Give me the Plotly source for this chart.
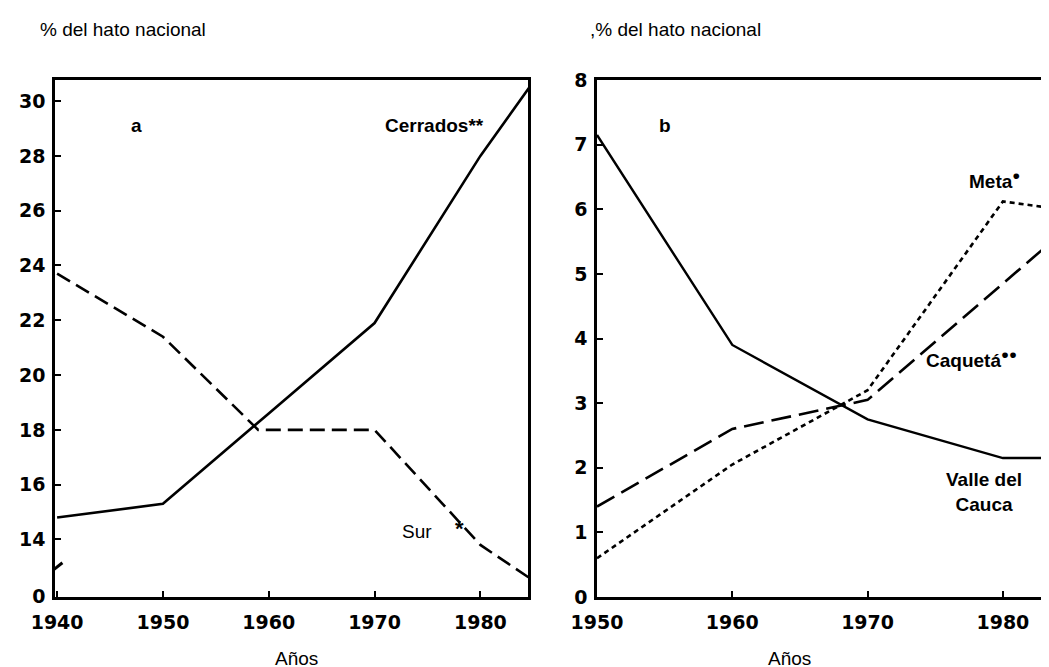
import plotly.graph_objects as go

# panel a: share of national herd, Brazil
years_a = [1940, 1950, 1960, 1970, 1980, 1985]
cerrados = [14.8, 15.3, 18.6, 21.9, 28.0, 30.7]
years_sur = [1940, 1950, 1959, 1970, 1980, 1985]
sur = [23.7, 21.4, 18.0, 18.0, 13.8, 12.5]
ticks_a = [11.92, 14, 16, 18, 20, 22, 24, 26, 28, 30]
ticktext_a = ["0", "14", "16", "18", "20", "22", "24", "26", "28", "30"]

# panel b: Colombia
years_b = [1950, 1960, 1970, 1980, 1985]
valle = [7.15, 3.9, 2.75, 2.15, 2.15]
caqueta = [1.4, 2.6, 3.05, 4.85, 5.75]
meta = [0.6, 2.05, 3.2, 6.12, 5.98]

W, H = 1049, 667
font = "Liberation Sans, Arial, sans-serif"
tickfont = dict(family="DejaVu Sans", size=19, color="black", weight="bold")

fig = go.Figure()
fig.add_trace(go.Scatter(x=years_a, y=cerrados, mode="lines",
                         line=dict(color="black", width=2.6), xaxis="x", yaxis="y"))
fig.add_trace(go.Scatter(x=years_sur, y=sur, mode="lines",
                         line=dict(color="black", width=2.6, dash="15px,7px"), xaxis="x", yaxis="y"))
fig.add_trace(go.Scatter(x=years_b, y=valle, mode="lines",
                         line=dict(color="black", width=2.4), xaxis="x2", yaxis="y2"))
fig.add_trace(go.Scatter(x=years_b, y=caqueta, mode="lines",
                         line=dict(color="black", width=2.6, dash="20px,8px"), xaxis="x2", yaxis="y2"))
fig.add_trace(go.Scatter(x=years_b, y=meta, mode="lines",
                         line=dict(color="black", width=2.6, dash="5px,4px"), xaxis="x2", yaxis="y2"))

axis_common = dict(showgrid=False, zeroline=False, showline=True, linecolor="black",
                   linewidth=2.5, ticks="inside", ticklen=6, tickwidth=2, tickcolor="black",
                   tickfont=tickfont, automargin=False)

fig.update_layout(
    width=W, height=H,
    margin=dict(l=0, r=0, t=0, b=0),
    paper_bgcolor="white", plot_bgcolor="white",
    showlegend=False,
    xaxis=dict(axis_common, domain=[47 / W, 520 / W], range=[1939.8, 1984.5],
               tickvals=[1940, 1950, 1960, 1970, 1980], mirror=True, anchor="y",
               ticklabelstandoff=6),
    yaxis=dict(axis_common, domain=[1 - 589 / H, 1 - 72 / H], range=[11.9, 30.77],
               tickvals=ticks_a, ticktext=ticktext_a, mirror=True, anchor="x",
               ticklabelstandoff=3),
    xaxis2=dict(axis_common, domain=[589 / W, 1.0], range=[1950, 1984],
                tickvals=[1950, 1960, 1970, 1980], mirror=True, anchor="y2",
                ticklabelstandoff=6),
    yaxis2=dict(axis_common, domain=[1 - 589 / H, 1 - 72 / H], range=[0, 8],
                tickvals=list(range(0, 9)), mirror=False, anchor="x2",
                ticklabelstandoff=3),
)

txt = dict(family=font, size=19, color="black")
bold = dict(family=font, size=19, color="black", weight="bold")
ann = [
    dict(x=30 / W, y=1 - 22 / H, xref="paper", yref="paper", text="% del hato nacional",
         xanchor="left", yanchor="middle", font=txt),
    dict(x=580 / W, y=1 - 22 / H, xref="paper", yref="paper", text=",% del hato nacional",
         xanchor="left", yanchor="middle", font=txt),
    dict(x=265 / W, y=1 - 650 / H, xref="paper", yref="paper", text="Años",
         yanchor="middle", font=txt),
    dict(x=805 / W, y=1 - 650 / H, xref="paper", yref="paper", text="Años",
         yanchor="middle", font=txt),
    dict(x=1947.5, y=29.1, xref="x", yref="y", text="a", font=bold),
    dict(x=1980.5, y=29.1, xref="x", yref="y", text="Cerrados**", xanchor="right", font=bold),
    dict(x=1974, y=14.3, xref="x", yref="y", text="Sur", font=txt),
    dict(x=1978, y=14.4, xref="x", yref="y", text="*", font=dict(bold, size=22)),
    dict(x=1955, y=7.3, xref="x2", yref="y2", text="b", font=bold),
    dict(x=1979.4, y=6.45, xref="x2", yref="y2", text="Meta<sup>●</sup>", font=bold),
    dict(x=1977.7, y=3.69, xref="x2", yref="y2", text="Caquetá<sup>●●</sup>", font=bold),
    dict(x=1978.6, y=1.62, xref="x2", yref="y2", text="Valle del<br>Cauca", font=bold),
]
for a in ann:
    a["showarrow"] = False
fig.update_layout(annotations=ann)

# axis break mark on panel a
fig.add_shape(type="line", xref="x", yref="y", x0=1939.2, y0=12.75, x1=1940.5, y1=13.15,
              line=dict(color="black", width=3))

fig.write_html("out.html")
